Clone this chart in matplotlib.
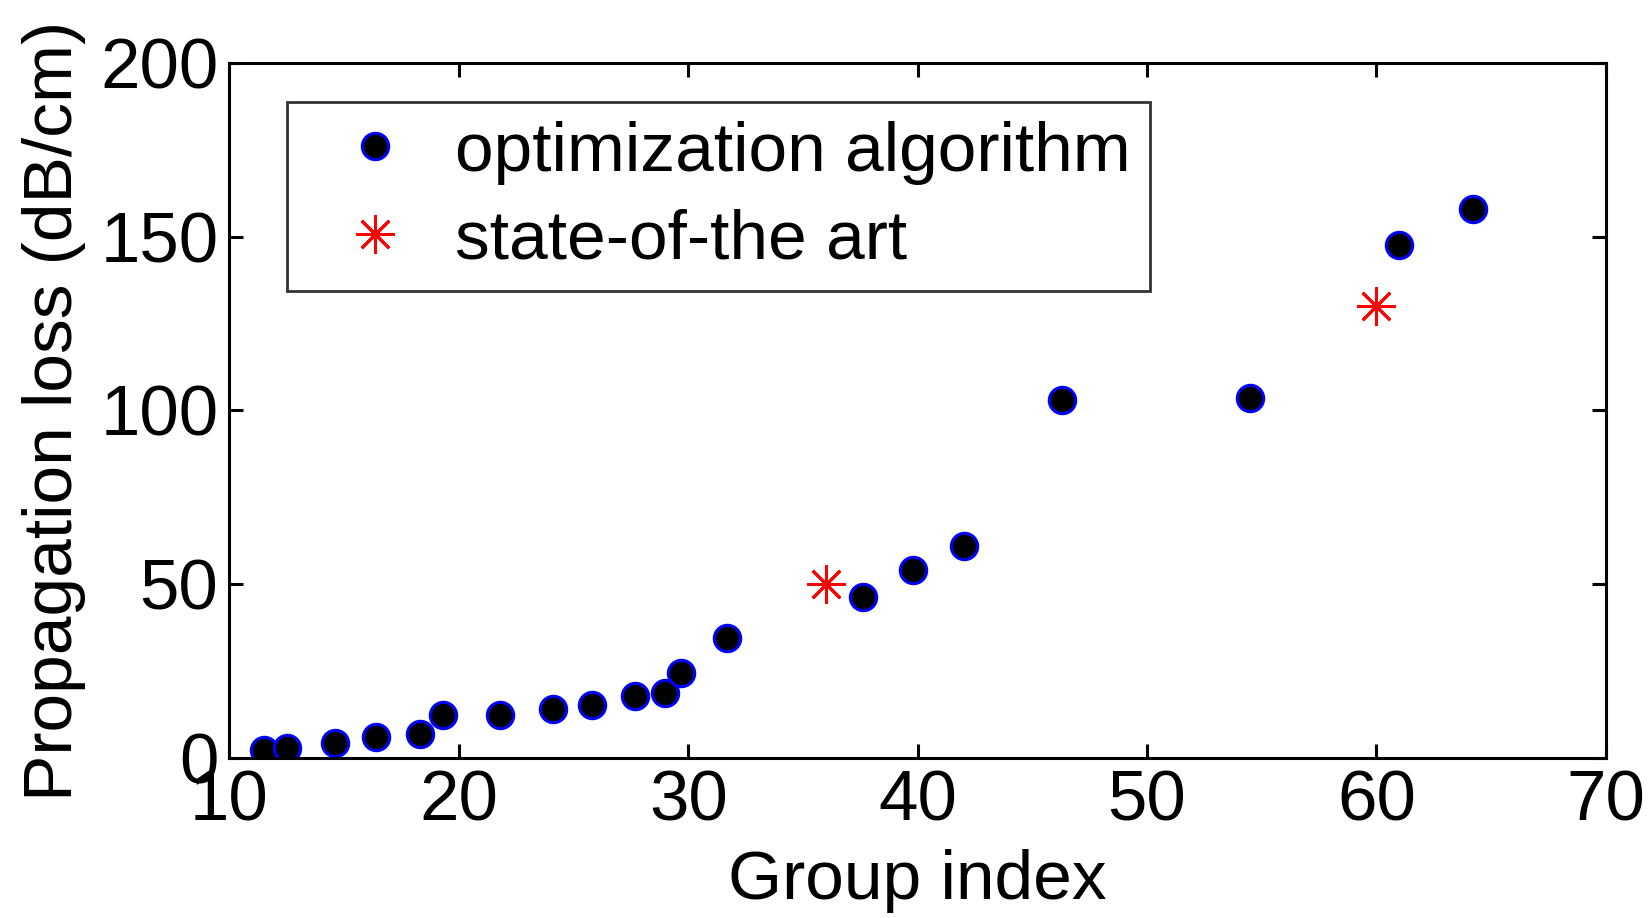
import matplotlib
matplotlib.use("Agg")
import matplotlib.pyplot as plt

# Data
opt_x = [11.5, 12.5, 14.6, 16.4, 18.3, 19.3, 21.8, 24.1, 25.8, 27.7, 29.0, 29.7,
         31.7, 37.6, 39.8, 42.0, 46.3, 54.5, 61.0, 64.2]
opt_y = [2.4, 3.0, 4.2, 6.1, 7.0, 12.4, 12.4, 14.2, 15.2, 17.9, 18.8, 24.5,
         34.5, 46.4, 54.2, 60.9, 103.0, 103.6, 147.6, 157.9]
sota_x = [36, 60]
sota_y = [50, 130]

x_ticks = [10, 20, 30, 40, 50, 60, 70]
y_ticks = [0, 50, 100, 150, 200]

plt.rcParams['font.family'] = ['Liberation Sans', 'DejaVu Sans']

fig = plt.figure(figsize=(16.51, 9.18), dpi=100)
ax = fig.add_axes([0.139, 0.1743, 0.8336, 0.7571])

ax.plot(opt_x, opt_y, linestyle='none', marker='o', markersize=19,
        markerfacecolor='black', markeredgecolor='blue', markeredgewidth=2.2,
        label='optimization algorithm')
ax.plot(sota_x, sota_y, linestyle='none', marker=(8, 2, 0), markersize=28,
        color='red', markeredgewidth=2, label='state-of-the art')

ax.set_xlim(10, 70)
ax.set_ylim(0, 200)
ax.set_xticks(x_ticks)
ax.set_yticks(y_ticks)

for s in ax.spines.values():
    s.set_linewidth(2.2)
ax.tick_params(direction='in', length=10, width=2.2, top=True, right=True,
               labelsize=51, pad=8)
ax.set_xlabel('Group index', fontsize=50, labelpad=10)
ax.set_ylabel('Propagation loss (dB/cm)', fontsize=50, labelpad=10)

leg = ax.legend(loc='upper left', bbox_to_anchor=(0.042, 0.944), fontsize=50,
                borderaxespad=0, frameon=True, fancybox=False, edgecolor='black',
                handletextpad=0.15, borderpad=0.27, labelspacing=0.34,
                handlelength=2.0, numpoints=1)
leg.get_frame().set_linewidth(2.0)

fig.savefig('out.png', dpi=100)
